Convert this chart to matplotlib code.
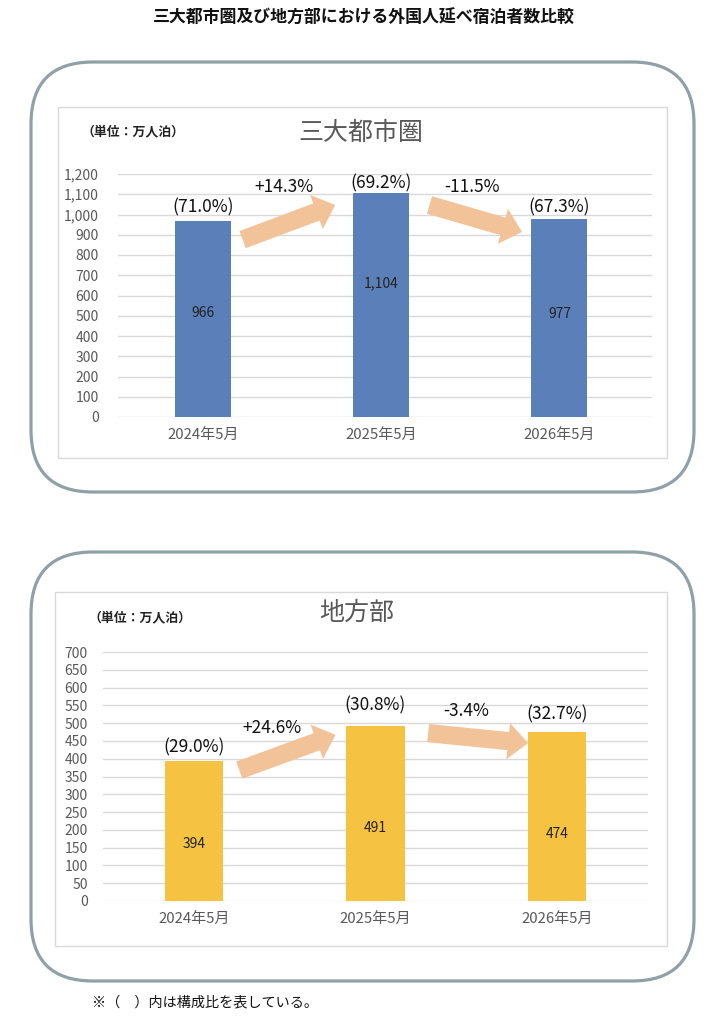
import matplotlib
matplotlib.use("Agg")
import matplotlib.pyplot as plt
from matplotlib.patches import FancyBboxPatch, Rectangle
from matplotlib.ticker import FuncFormatter

plt.rcParams['font.family'] = ['Noto Sans CJK JP', 'DejaVu Sans']

# ---- data ----
categories = ["2024年5月", "2025年5月", "2026年5月"]

metro_title = "三大都市圏"
metro_values = [966, 1104, 977]
metro_shares = ["(71.0%)", "(69.2%)", "(67.3%)"]
metro_changes = ["+14.3%", "-11.5%"]

rural_title = "地方部"
rural_values = [394, 491, 474]
rural_shares = ["(29.0%)", "(30.8%)", "(32.7%)"]
rural_changes = ["+24.6%", "-3.4%"]

unit_label = "（単位：万人泊）"
main_title = "三大都市圏及び地方部における外国人延べ宿泊者数比較"
footnote = "※（　）内は構成比を表している。"

W, H = 727, 1024
fig = plt.figure(figsize=(W / 100, H / 100), dpi=100)

# background overlay in pixel coordinates
bg = fig.add_axes([0, 0, 1, 1])
bg.set_xlim(0, W)
bg.set_ylim(H, 0)
bg.axis('off')

box_col = '#8fa1a6'
for (x0, y0, x1, y1) in [(31, 62, 694, 492), (31, 552, 694, 981)]:
    bg.add_patch(FancyBboxPatch((x0, y0), x1 - x0, y1 - y0,
                                boxstyle="round,pad=0,rounding_size=62",
                                fill=False, ec=box_col, lw=2.3))
for (x0, y0, x1, y1) in [(58, 107, 667, 458), (55, 592, 667, 946)]:
    bg.add_patch(Rectangle((x0, y0), x1 - x0, y1 - y0, fill=False,
                           ec='#d9d9d9', lw=1.0))

fig.text(364 / W, 1 - 18 / H, main_title, ha='center', va='center',
         fontsize=12.2, fontweight='bold', color='#111111')
fig.text(92 / W, 1 - 1002 / H, footnote, ha='left', va='center',
         fontsize=10.2, color='#111111')

arrow_col = '#f2c398'


def draw_chart(rect, values, shares, changes, ymax, step, color, title,
               title_xy, unit_xy, xlim, bar_w, ypad, share_off,
               change_pos, val_frac, arrow_pts):
    ax = fig.add_axes(rect)
    ax.patch.set_alpha(0)
    x = list(range(len(values)))
    ax.bar(x, values, width=bar_w, color=color, zorder=3)
    ax.set_xlim(*xlim)
    ax.set_ylim(0, ymax)
    ax.set_yticks(range(0, ymax + 1, step))
    ax.yaxis.set_major_formatter(FuncFormatter(lambda v, p: f"{int(v):,}"))
    ax.set_xticks(x)
    ax.set_xticklabels(categories)
    ax.grid(axis='y', color='#d9d9d9', lw=1.0, zorder=0)
    for s in ax.spines.values():
        s.set_visible(False)
    ax.tick_params(axis='y', length=0, pad=ypad, labelsize=10,
                   labelcolor='#595959')
    ax.tick_params(axis='x', length=0, pad=8, labelsize=10.8,
                   labelcolor='#595959')
    for i, v in enumerate(values):
        ax.text(i, v + share_off[i], shares[i], ha='center', va='bottom',
                fontsize=12.5, color='#111111')
        ax.text(i, v * val_frac[i], f"{v:,}", ha='center', va='center',
                fontsize=10, color='#222222')
    for j, (cx, cy) in enumerate(change_pos):
        ax.text(cx, cy, changes[j], ha='center', va='center',
                fontsize=12.5, color='#111111')
    for (xs, ys, xe, ye) in arrow_pts:
        ax.annotate("", xy=(xe, ye), xytext=(xs, ys),
                    arrowprops=dict(arrowstyle="simple,head_length=1.15,head_width=2.1,tail_width=1.05",
                                    mutation_scale=12.5, color=arrow_col,
                                    ec='none', shrinkA=0, shrinkB=0),
                    zorder=4)
    fig.text(title_xy[0] / W, 1 - title_xy[1] / H, title, ha='center',
             va='center', fontsize=18, color='#595959')
    fig.text(unit_xy[0] / W, 1 - unit_xy[1] / H, unit_label, ha='center',
             va='center', fontsize=9.3, fontweight='bold', color='#222222')
    return ax


# top chart
v = metro_values
draw_chart([118 / W, 1 - 417 / H, 534 / W, 243 / H], v, metro_shares,
           metro_changes, 1200, 100, '#5b7fb8', metro_title,
           (361, 133), (133, 132), (-0.48, 2.52), 0.315, 14,
           [25, 5, 15],
           [(0.45, 1136), (1.51, 1136)],
           [0.53, 0.60, 0.52],
           [(0.22, v[0] - 90, 0.74, v[1] - 57),
            (1.27, v[1] - 57, 1.79, v[2] - 63)])

# bottom chart
v = rural_values
draw_chart([103 / W, 1 - 901 / H, 545 / W, 249 / H], v, rural_shares,
           rural_changes, 700, 50, '#f5c242', rural_title,
           (357, 613), (140, 618), (-0.5, 2.5), 0.32, 11,
           [12, 32, 26],
           [(0.43, 486), (1.50, 534)],
           [0.41, 0.42, 0.40],
           [(0.25, v[0] - 26, 0.78, v[1] - 24),
            (1.29, v[1] - 19, 1.84, v[2] - 30)])

fig.savefig("out.png", dpi=100)
